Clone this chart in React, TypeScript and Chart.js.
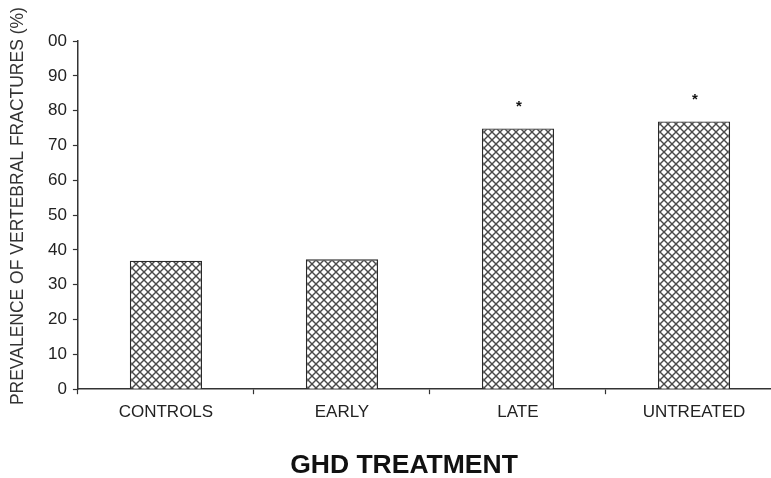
import React, { useEffect, useRef } from "react";
import { Chart, registerables } from "chart.js";

Chart.register(...registerables);

const categories = ["CONTROLS", "EARLY", "LATE", "UNTREATED"];
const prevalence = [36.9, 37.3, 74.9, 76.9];
const significance = ["", "", "*", "*"];
const yTickLabels = ["0", "10", "20", "30", "40", "50", "60", "70", "80", "90", "00"];
const yAxisTitle = "PREVALENCE OF VERTEBRAL FRACTURES (%)";
const xAxisTitle = "GHD TREATMENT";

const FONT = "'Liberation Sans', Arial, Helvetica, sans-serif";

function makeHatch(): CanvasPattern | string {
  const size = 8;
  const c = document.createElement("canvas");
  c.width = size;
  c.height = size;
  const g = c.getContext("2d");
  if (!g) return "#fff";
  g.fillStyle = "#ffffff";
  g.fillRect(0, 0, size, size);
  g.strokeStyle = "#4a4a4a";
  g.lineWidth = 1.4;
  for (let k = -1; k <= 1; k++) {
    g.beginPath();
    g.moveTo(-2 + k * size, -2);
    g.lineTo(size + 2 + k * size, size + 2);
    g.stroke();
    g.beginPath();
    g.moveTo(size + 2 + k * size, -2);
    g.lineTo(-2 + k * size, size + 2);
    g.stroke();
  }
  const p = g.createPattern(c, "repeat");
  return p || "#fff";
}

const annotationPlugin = {
  id: "annotations",
  afterDatasetsDraw(chart: any) {
    const meta = chart.getDatasetMeta(0);
    const ctx = chart.ctx;
    ctx.save();
    ctx.fillStyle = "#111";
    ctx.font = `bold 15px ${FONT}`;
    ctx.textAlign = "center";
    ctx.textBaseline = "alphabetic";
    meta.data.forEach((el: any, i: number) => {
      const mark = significance[i];
      if (!mark) return;
      ctx.fillText(mark, el.x + 1, el.y - 17);
    });
    ctx.restore();
  },
  afterDraw(chart: any) {
    const ctx = chart.ctx;
    const area = chart.chartArea;
    ctx.save();
    // x axis title
    ctx.fillStyle = "#111";
    ctx.font = `bold 26.5px ${FONT}`;
    ctx.textAlign = "center";
    ctx.textBaseline = "middle";
    ctx.fillText(xAxisTitle, 404, 466);
    // y axis title
    ctx.fillStyle = "#333";
    ctx.font = `17.5px ${FONT}`;
    ctx.translate(18, (area.top + area.bottom) / 2 - 9);
    ctx.rotate(-Math.PI / 2);
    ctx.fillText(yAxisTitle, 0, 0);
    ctx.restore();
  },
};

export default function App() {
  const ref = useRef<HTMLCanvasElement | null>(null);
  useEffect(() => {
    if (!ref.current) return;
    const hatch = makeHatch();
    const chart = new Chart(ref.current, {
      type: "bar",
      data: {
        labels: categories,
        datasets: [
          {
            data: prevalence,
            backgroundColor: hatch as any,
            borderColor: "#2a2a2a",
            borderWidth: 1.4,
            categoryPercentage: 1,
            barPercentage: 0.41,
          },
        ],
      },
      options: {
        animation: false,
        responsive: false,
        devicePixelRatio: 1,
        layout: { padding: { top: 41, right: 26, left: 42, bottom: 47.4 } },
        plugins: {
          legend: { display: false },
          tooltip: { enabled: false },
          title: { display: false },
        },
        scales: {
          x: {
            offset: true,
            grid: {
              display: true,
              offset: true,
              drawOnChartArea: false,
              tickLength: 5,
              tickColor: "#333",
              tickWidth: 1.2,
            },
            border: { color: "#333", width: 1.5 },
            ticks: {
              color: "#222",
              padding: 8,
              font: { family: FONT, size: 17 },
              maxRotation: 0,
            },
          },
          y: {
            min: 0,
            max: 100,
            grid: {
              display: true,
              drawOnChartArea: false,
              tickLength: 5,
              tickColor: "#333",
              tickWidth: 1.2,
            },
            border: { color: "#333", width: 1.5 },
            ticks: {
              stepSize: 10,
              color: "#222",
              padding: 6,
              font: { family: FONT, size: 17 },
              callback: (_v: any, i: number) => yTickLabels[i],
            },
          },
        },
      },
      plugins: [annotationPlugin],
    });
    return () => chart.destroy();
  }, []);

  return (
    <div
      style={{
        position: "fixed",
        left: 0,
        top: 0,
        width: 771,
        height: 478,
        overflow: "hidden",
        background: "#fff",
      }}
    >
      <canvas ref={ref} width={808} height={478} style={{ width: 808, height: 478, display: "block" }} />
    </div>
  );
}
